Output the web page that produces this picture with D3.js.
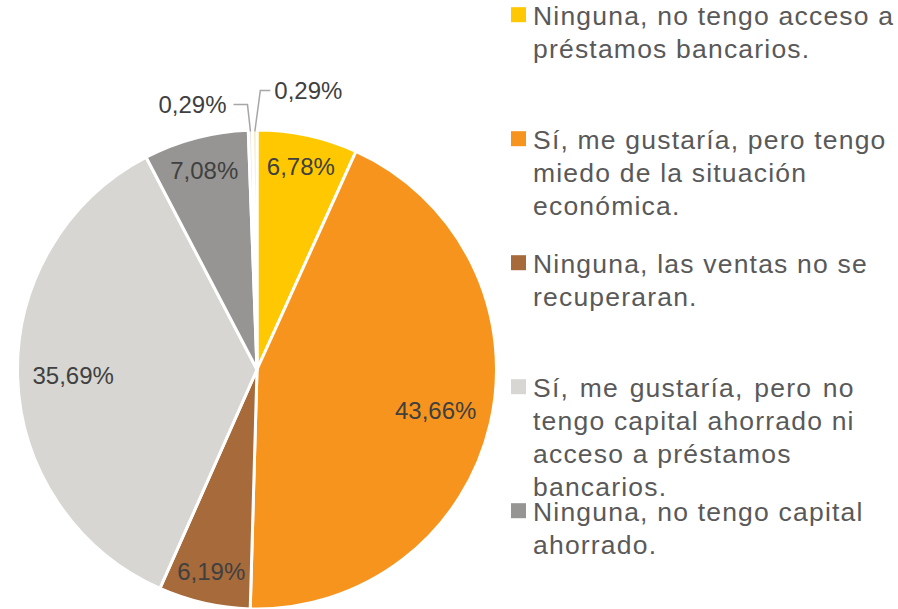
<!DOCTYPE html>
<html>
<head>
<meta charset="utf-8">
<script src="https://cdn.jsdelivr.net/npm/d3@7"></script>
<style>
  html, body { margin: 0; padding: 0; background: #ffffff; }
  svg { display: block; }
</style>
</head>
<body>
<svg id="chart" width="898" height="609"></svg>
<script>
// ---- data ----
const categories = [
  "Ninguna, no tengo acceso a\npréstamos bancarios.",
  "Sí, me gustaría, pero tengo\nmiedo de la situación\neconómica.",
  "Ninguna, las ventas no se\nrecuperaran.",
  "Sí, me gustaría, pero no\ntengo capital ahorrado ni\nacceso a préstamos\nbancarios.",
  "Ninguna, no tengo capital\nahorrado.",
  "Otra respuesta 1",
  "Otra respuesta 2"
];
const values = [6.78, 43.66, 6.19, 35.69, 7.08, 0.29, 0.29];
const valueLabels = ["6,78%", "43,66%", "6,19%", "35,69%", "7,08%", "0,29%", "0,29%"];
const legendCount = 5; // only the first five entries are visible in the legend

// ---- styles / layout ----
const colors = ["#FFC800", "#F7941E", "#A66A3B", "#D7D6D2", "#969593", "#E9E8E4", "#F1E5BC"];
const W = 898, H = 609;
const cx = 257, cy = 369.5, R = 239.5;
const labelFont = "'Liberation Sans', Arial, sans-serif";

const svg = d3.select("#chart");
const color = d3.scaleOrdinal().domain(d3.range(values.length)).range(colors);

const pie = d3.pie().sort(null).value(d => d).startAngle(0).endAngle(2 * Math.PI);
const arcs = pie(values);
const arcGen = d3.arc().innerRadius(0).outerRadius(R);

const g = svg.append("g").attr("transform", `translate(${cx},${cy})`);
g.selectAll("path.slice")
  .data(arcs)
  .enter().append("path")
  .attr("class", "slice")
  .attr("d", arcGen)
  .attr("fill", (d, i) => color(i))
  .attr("stroke", "#ffffff")
  .attr("stroke-width", 3)
  .attr("stroke-linejoin", "round");

// ---- inside labels (slices large enough) ----
const capH = 17; // approx digit height at 24px
const cornerR = 225;
arcs.forEach((a, i) => {
  if (values[i] < 1) return;
  const t = g.append("text")
    .attr("font-family", labelFont)
    .attr("font-size", 24)
    .attr("fill", "#404040")
    .attr("text-anchor", "middle")
    .text(valueLabels[i]);
  const w = t.node().getComputedTextLength();
  const th = (a.startAngle + a.endAngle) / 2;
  const ux = Math.sin(th), uy = -Math.cos(th);
  const sx = Math.sign(ux) || 1, sy = Math.sign(uy) || 1;
  // find radius so farthest bbox corner lies on cornerR
  let lo = 0, hi = R;
  for (let k = 0; k < 40; k++) {
    const m = (lo + hi) / 2;
    const px = m * ux + sx * w / 2, py = m * uy + sy * capH / 2;
    if (Math.hypot(px, py) > cornerR) hi = m; else lo = m;
  }
  const px = lo * ux, py = lo * uy;
  t.attr("x", px).attr("y", py + capH / 2);
});

// ---- outside labels with leader lines for tiny slices ----
const smallIdx = d3.range(values.length).filter(i => values[i] < 1);
smallIdx.forEach((i, k) => {
  const a = arcs[i];
  const th = (a.startAngle + a.endAngle) / 2;
  const ox = (R - 1.5) * Math.sin(th), oy = -(R - 1.5) * Math.cos(th);
  const left = k === 0;
  const ex = ox + (left ? -3 : 5.5);
  const ey = oy + (left ? -27 : -41);
  const hx = ex + (left ? -14 : 10);
  g.append("path")
    .attr("d", d3.line()([[ox, oy], [ex, ey], [hx, ey]]))
    .attr("fill", "none")
    .attr("stroke", "#A6A6A6")
    .attr("stroke-width", 1.5);
  g.append("text")
    .attr("font-family", labelFont)
    .attr("font-size", 24)
    .attr("fill", "#404040")
    .attr("text-anchor", left ? "end" : "start")
    .attr("x", hx + (left ? -7 : 4))
    .attr("y", ey + 8)
    .text(valueLabels[i]);
});

// ---- legend ----
const legendY = d3.scaleLinear().domain([0, legendCount - 1]).range([25.2, 521.2]);
const lineH = 33;
const legend = svg.append("g");
for (let i = 0; i < legendCount; i++) {
  const y0 = legendY(i);
  legend.append("rect")
    .attr("x", 511).attr("y", y0 - 18)
    .attr("width", 15).attr("height", 15)
    .attr("fill", color(i));
  const lines = categories[i].split("\n");
  const tg = legend.append("text")
    .attr("font-family", labelFont)
    .attr("font-size", 26.5)
    .attr("letter-spacing", 1.2)
    .attr("fill", "#595959");
  const tspans = lines.map((ln, j) => tg.append("tspan")
    .attr("x", 533).attr("y", y0 + j * lineH).text(ln));
  if (i === 3) {
    // first line of this entry is justified to the block width
    const widths = tspans.map(s => s.node().getComputedTextLength());
    const target = d3.max(widths);
    const nSpaces = (lines[0].match(/ /g) || []).length;
    if (nSpaces > 0) tspans[0].attr("word-spacing", (target - widths[0]) / nSpaces);
  }
}
</script>
</body>
</html>
